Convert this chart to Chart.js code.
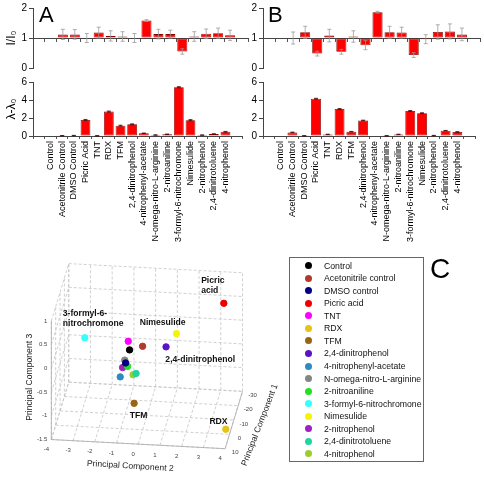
<!DOCTYPE html>
<html lang="en">
<head>
<meta charset="UTF-8">
<meta name="viewport" content="width=device-width, initial-scale=1.0">
<title>Sensor response and PCA</title>
<script src="https://cdn.jsdelivr.net/npm/chart.js"></script>
<style>
  html, body { margin: 0; padding: 0; background: #fff; }
  #fig { position: relative; width: 484px; height: 478px; overflow: hidden;
         font-family: "Liberation Sans", Arial, sans-serif; }
  #fig canvas { position: absolute; }
  .tag { position: absolute; line-height: 1; color: #000; }
  #legend { position: absolute; left: 289px; top: 257px; width: 135px; height: 205px;
            box-sizing: border-box; border: 1px solid #666; padding-top: 1.4px; }
  #legend div { height: 12.55px; display: flex; align-items: center; font-size: 8.7px; color: #111; white-space: nowrap; }
  #legend span { width: 7px; height: 7px; border-radius: 50%; margin: 0 12.5px 0 14.5px; flex: none; }
</style>
</head>
<body>
<div id="fig">
  <canvas id="aTop" width="250" height="76" style="left:0;top:0"></canvas>
  <canvas id="aBottom" width="250" height="178" style="left:0;top:74px"></canvas>
  <canvas id="bTop" width="252" height="76" style="left:230px;top:0"></canvas>
  <canvas id="bBottom" width="252" height="178" style="left:230px;top:74px"></canvas>
  <canvas id="pca" width="290" height="228" style="left:0;top:250px"></canvas>
  <div class="tag" style="left:39px;top:4px;font-size:22px">A</div>
  <div class="tag" style="left:268px;top:4px;font-size:22px">B</div>
  <div class="tag" style="left:430px;top:255px;font-size:28px">C</div>
  <div id="legend"></div>
</div>
<script>
// ---- bar data (panels A and B) ----
const compounds = ['Control', 'Acetonitrile Control', 'DMSO Control', 'Picric Acid', 'TNT', 'RDX', 'TFM',
  '2,4-dinitrophenol', '4-nitrophenyl-acetate', 'N-omega-nitro-L-arginine', '2-nitroaniline',
  '3-formyl-6-nitrochromone', 'Nimesulide', '2-nitrophenol', '2,4-dinitrotoluene', '4-nitrophenol'];

const intensityA    = [1, 1.12, 1.12, 1.0, 1.18, 1.07, 1.05, 1.0, 1.58, 1.13, 1.13, 0.55, 1.05, 1.14, 1.16, 1.09];
const intensityErrA = [0, 0.17, 0.16, 0.15, 0.18, 0.17, 0.16, 0.15, 0.03, 0.16, 0.13, 0.09, 0.16, 0.16, 0.17, 0.17];
const shiftA        = [0, 0.03, 0.05, 1.79, 0.02, 2.71, 1.15, 1.3, 0.3, 0.11, 0.19, 5.42, 1.76, 0.1, 0.22, 0.47];
const shiftErrA     = [0, 0.02, 0.02, 0.05, 0.02, 0.06, 0.05, 0.05, 0.03, 0.02, 0.03, 0.06, 0.06, 0.02, 0.03, 0.04];

const intensityB    = [1, 1.0, 1.19, 0.48, 1.08, 0.54, 1.05, 0.76, 1.86, 1.19, 1.18, 0.43, 0.96, 1.2, 1.22, 1.12];
const intensityErrB = [0, 0.2, 0.2, 0.08, 0.21, 0.08, 0.19, 0.15, 0.03, 0.2, 0.18, 0.08, 0.15, 0.24, 0.25, 0.21];
const shiftB        = [0, 0.4, 0.02, 4.14, 0.18, 3.0, 0.48, 1.72, 0, 0.02, 0.18, 2.78, 2.53, 0.05, 0.59, 0.45];
const shiftErrB     = [0, 0.03, 0.02, 0.05, 0.02, 0.05, 0.03, 0.04, 0, 0.02, 0.02, 0.05, 0.05, 0.02, 0.03, 0.03];

// ---- PCA data (panel C) ----
const pcaNames = ['Control', 'Acetonitrile control', 'DMSO control', 'Picric acid', 'TNT', 'RDX', 'TFM',
  '2,4-dinitrophenol', '4-nitrophenyl-acetate', 'N-omega-nitro-L-arginine', '2-nitroaniline',
  '3-formyl-6-nitrochromone', 'Nimesulide', '2-nitrophenol', '2,4-dinitrotoluene', '4-nitrophenol'];
const pcaColors = ['#000000', '#b03a2e', '#000080', '#ee0000', '#ff00ff', '#e6c21a', '#9b6414',
  '#5a14c8', '#2e8bc0', '#858585', '#22e022', '#33ffff', '#f5f500', '#a020c0', '#1ed6a0', '#9acd32'];
const pc1 = [0, 0, 0, -25, 0, 8, 2, -6, 0, 0, 0, 4, -8, 0, 0, 0];
const pc2 = [-0.6, 0.0, -0.78, 3.24, -0.66, 3.99, -0.35, 0.96, -1.03, -0.82, -0.69, -2.58, 1.4, -0.92, -0.3, -0.44];
const pc3 = [0.17, 0.26, -0.11, 0.49, 0.35, -1.15, -0.89, 0.09, -0.41, -0.05, -0.18, 0.5, 0.32, -0.21, -0.32, -0.35];
const pc1Ticks = [-30, -20, -10, 0, 10];
const pc2Ticks = [-4, -3, -2, -1, 0, 1, 2, 3, 4];
const pc3Ticks = [-1.5, -1, -0.5, 0, 0.5, 1];

const family = '"Liberation Sans", Arial, sans-serif';
Chart.defaults.font.family = family;

const pad = a => [null, ...a, null];

// error bars drawn with the value scale of the chart
const errorBars = {
  id: 'errorBars',
  afterDatasetsDraw(chart, args, opts) {
    const ds = chart.data.datasets[0];
    const meta = chart.getDatasetMeta(0);
    const ys = chart.scales.y;
    const ctx = chart.ctx;
    ctx.save();
    ctx.strokeStyle = opts.color;
    ctx.lineWidth = 0.8;
    meta.data.forEach((bar, i) => {
      const v = ds.data[i], e = ds.errors[i];
      if (v == null || !e) return;
      const x = bar.x;
      const t = ys.getPixelForValue(v + e), b = ys.getPixelForValue(v - e);
      ctx.beginPath();
      ctx.moveTo(x, t); ctx.lineTo(x, b);
      ctx.moveTo(x - 2, t); ctx.lineTo(x + 2, t);
      ctx.moveTo(x - 2, b); ctx.lineTo(x + 2, b);
      ctx.stroke();
    });
    ctx.restore();
  }
};

function barChart(id, values, errors, o) {
  return new Chart(document.getElementById(id), {
    type: 'bar',
    data: {
      labels: pad(compounds).map(l => l || ''),
      datasets: [{
        data: pad(values),
        errors: pad(errors),
        base: o.base,
        backgroundColor: '#ff0000',
        borderColor: '#8c0000',
        borderWidth: 0.8,
        borderSkipped: false,
        categoryPercentage: 1,
        barPercentage: 0.84
      }]
    },
    options: {
      responsive: false,
      animation: false,
      layout: { padding: o.padding },
      plugins: {
        legend: { display: false },
        tooltip: { enabled: false },
        errorBars: { color: o.errColor }
      },
      scales: {
        x: {
          position: o.top ? { y: 1 } : 'bottom',
          grid: { drawOnChartArea: false, tickLength: 3, color: '#555' },
          border: { color: '#444', width: 1 },
          ticks: o.top ? { display: false } : {
            font: { size: 9 }, color: '#000', minRotation: 90, maxRotation: 90, autoSkip: false, padding: 2
          },
          afterFit: s => { if (!o.top) s.height = o.xHeight; }
        },
        y: {
          min: 0, max: o.max,
          ticks: { stepSize: o.step, font: { size: 10 }, color: '#000', padding: 2 },
          grid: { drawOnChartArea: false, tickLength: 4, color: '#444' },
          border: { color: '#444' },
          title: o.title ? { display: true, text: o.title, font: { size: 12 }, color: '#000', padding: { top: 4, bottom: 0 } } : { display: false },
          afterFit: s => { s.width = 33; }
        }
      }
    },
    plugins: [errorBars]
  });
}

barChart('aTop', intensityA, intensityErrA, { top: true, base: 1, max: 2, step: 1, title: 'I/I\u2080', errColor: '#999', padding: { top: 8, right: 2, bottom: 5, left: 0 } });
barChart('aBottom', shiftA, shiftErrA, { top: false, max: 6, step: 2, title: '\u03bb-\u03bb\u2080', errColor: '#400', xHeight: 116, padding: { top: 7, right: 2, bottom: 0, left: 0 } });
barChart('bTop', intensityB, intensityErrB, { top: true, base: 1, max: 2, step: 1, errColor: '#999', padding: { top: 8, right: 2, bottom: 5, left: 0 } });
barChart('bBottom', shiftB, shiftErrB, { top: false, max: 6, step: 2, errColor: '#400', xHeight: 116, padding: { top: 7, right: 2, bottom: 0, left: 0 } });

// ---- panel C: orthographic view of the 3 principal components ----
function project(a, b, c) {
  // a = PC1 (depth), b = PC2 (across), c = PC3 (up)
  return { x: b * 22.5 - a * 0.45, y: c * 49.6 - b * 1.2 - a * 1.5 };
}

const labelled = [
  { i: 3, lines: ['Picric', 'acid'], dx: -22.7, dy: -22.4 },
  { i: 11, lines: ['3-formyl-6-', 'nitrochromone'], dx: -22, dy: -24 },
  { i: 12, lines: ['Nimesulide'], dx: -36.7, dy: -10.6 },
  { i: 7, lines: ['2,4-dinitrophenol'], dx: -0.7, dy: 13 },
  { i: 6, lines: ['TFM'], dx: -4.4, dy: 12.7 },
  { i: 5, lines: ['RDX'], dx: -16.4, dy: -8 }
];

const box3d = {
  id: 'box3d',
  beforeDatasetsDraw(chart) {
    const { ctx, scales: { x, y } } = chart;
    const px = (a, b, c) => { const p = project(a, b, c); return [x.getPixelForValue(p.x), y.getPixelForValue(p.y)]; };
    const seg = (p, q) => { ctx.moveTo(p[0], p[1]); ctx.lineTo(q[0], q[1]); };
    const front = pc1Ticks[pc1Ticks.length - 1], back = pc1Ticks[0];
    const left = pc2Ticks[0], right = pc2Ticks[pc2Ticks.length - 1];
    const low = pc3Ticks[0], high = pc3Ticks[pc3Ticks.length - 1];
    ctx.save();
    ctx.strokeStyle = '#c4c4c4';
    ctx.lineWidth = 0.8;
    ctx.setLineDash([3, 2]);
    ctx.beginPath();
    pc2Ticks.forEach(b => { seg(px(front, b, low), px(back, b, low)); seg(px(back, b, low), px(back, b, high)); });
    pc1Ticks.forEach(a => { seg(px(a, left, low), px(a, right, low)); seg(px(a, left, low), px(a, left, high)); });
    pc3Ticks.forEach(c => { seg(px(back, left, c), px(back, right, c)); seg(px(front, left, c), px(back, left, c)); });
    ctx.stroke();
    ctx.setLineDash([]);
    ctx.strokeStyle = '#aaa';
    ctx.beginPath();
    seg(px(front, left, low), px(front, right, low));
    seg(px(front, right, low), px(back, right, low));
    seg(px(front, left, low), px(front, left, high));
    ctx.stroke();

    ctx.fillStyle = '#444';
    ctx.font = '6px ' + family;
    ctx.textBaseline = 'middle';
    ctx.textAlign = 'right';
    pc3Ticks.forEach(c => { const p = px(front, left, c); ctx.fillText(String(c), p[0] - 4, p[1]); });
    ctx.textAlign = 'center';
    pc2Ticks.forEach(b => { const p = px(front, b, low); ctx.fillText(String(b), p[0] - 5, p[1] + 10); });
    pc1Ticks.forEach(a => { const p = px(a, right, low); ctx.fillText(String(a), p[0] + 10, p[1] + 4); });

    ctx.fillStyle = '#222';
    ctx.font = '8.6px ' + family;
    let p = px(front, 0, low);
    ctx.save(); ctx.translate(p[0] - 8, p[1] + 22); ctx.rotate(0.06); ctx.fillText('Principal Component 2', 0, 0); ctx.restore();
    p = px(front, left, -0.25);
    ctx.save(); ctx.translate(p[0] - 22, p[1] - 3); ctx.rotate(-Math.PI / 2); ctx.fillText('Principal Component 3', 0, 0); ctx.restore();
    p = px(-10, right, low);
    ctx.save(); ctx.translate(p[0] + 26, p[1] + 5); ctx.rotate(-1.2); ctx.fillText('Principal Component 1', 0, 0); ctx.restore();
    ctx.restore();
  },
  afterDatasetsDraw(chart) {
    const { ctx } = chart;
    ctx.save();
    ctx.fillStyle = '#111';
    ctx.font = 'bold 8.6px ' + family;
    ctx.textAlign = 'left';
    ctx.textBaseline = 'middle';
    labelled.forEach(l => {
      const pt = chart.getDatasetMeta(l.i).data[0];
      l.lines.forEach((t, k) => ctx.fillText(t, pt.x + l.dx, pt.y + l.dy + k * 10));
    });
    ctx.restore();
  }
};

new Chart(document.getElementById('pca'), {
  type: 'scatter',
  data: {
    datasets: pcaNames.map((n, i) => ({
      label: n,
      data: [project(pc1[i], pc2[i], pc3[i])],
      backgroundColor: pcaColors[i],
      borderColor: pcaColors[i],
      pointRadius: 3.2
    }))
  },
  options: {
    responsive: false,
    animation: false,
    layout: { padding: 0 },
    plugins: { legend: { display: false }, tooltip: { enabled: false } },
    scales: {
      x: { display: false, min: -142.5, max: 147.5 },
      y: { display: false, min: -119.6, max: 108.4 }
    }
  },
  plugins: [box3d]
});

// legend for panel C
const legend = document.getElementById('legend');
pcaNames.forEach((n, i) => {
  const row = document.createElement('div');
  const dot = document.createElement('span');
  dot.style.background = pcaColors[i];
  row.appendChild(dot);
  row.appendChild(document.createTextNode(n));
  legend.appendChild(row);
});
</script>
</body>
</html>
